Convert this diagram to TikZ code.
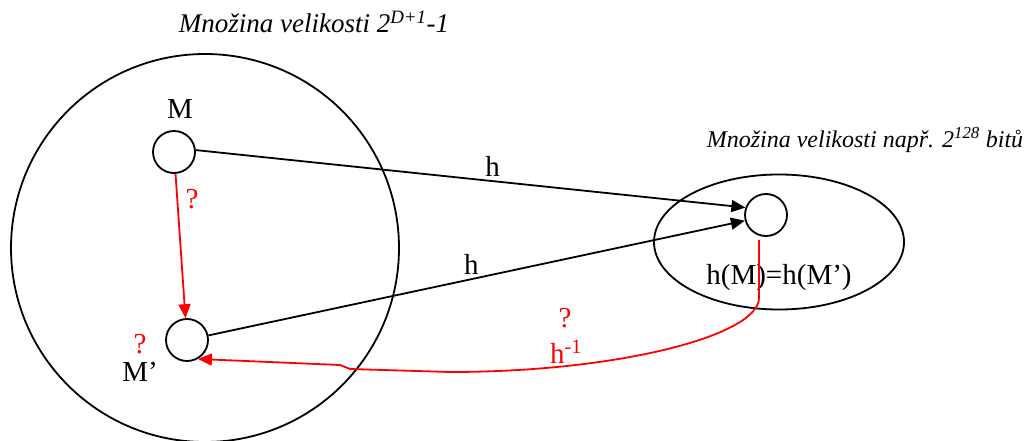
\documentclass[tikz,border=0pt]{standalone}
\usepackage{fontspec}
\setmainfont{Liberation Serif}
\usetikzlibrary{arrows.meta,shapes.geometric}
\begin{document}
\begin{tikzpicture}[x=1pt,y=-1pt,>={Triangle[length=14pt,width=12pt]},line width=1.8pt,
  every node/.style={font=\fontsize{29}{34}\selectfont},
  elem/.style={draw,circle,minimum size=42pt,inner sep=0pt},
  ttl/.style={font=\fontsize{27}{32}\selectfont\itshape},
  qm/.style={text=red}]
  \useasboundingbox (0,0) rectangle (1031,441);
  % sets
  \node[draw,circle,minimum size=388pt,inner sep=0pt] (src) at (205,248) {};
  \node[draw,ellipse,minimum width=250pt,minimum height=135pt,inner sep=0pt] (dst) at (779,242) {};
  \node[ttl,anchor=base] (t1) at (314,33) {Množina velikosti 2\textsuperscript{D+1}-1};
  \node[ttl,anchor=base,font=\fontsize{24}{29}\selectfont\itshape] (t2) at (865,148) {Množina velikosti např. 2\textsuperscript{128} bitů};
  % elements
  \node[elem] (m) at (174,152) {};
  \node[elem] (mp) at (187,340) {};
  \node[elem] (hm) at (766,215) {};
  \node[anchor=base] (lm) at (180,119) {M};
  \node[anchor=base] (lmp) at (140,381) {M’};
  \node[anchor=base] (hmv) at (779,284) {h(M)=h(M’)};
  \node[qm,anchor=base] (q1) at (192,208) {?};
  \node[qm,anchor=base] (q2) at (140,353) {?};
  \node[qm,anchor=base] (q3) at (565,327) {?};
  \node[qm,anchor=base] (hinv) at (566,363) {h\textsuperscript{-1}};
  % arrows
  \draw[->] (m.5) -- node[above,pos=.54] {h} (hm.160);
  \draw[->] (mp) -- node[above,pos=.49] {h} (hm.195);
  \draw[->,red] (m) -- (mp);
  \draw[->,red] ([xshift=-7pt,yshift=-3pt]hm.south) -- (759,298) .. controls (759,335) and (620,372) .. (450,372) -- (350,369) -- (340,365) -- (mp.-60);
\end{tikzpicture}
\end{document}
